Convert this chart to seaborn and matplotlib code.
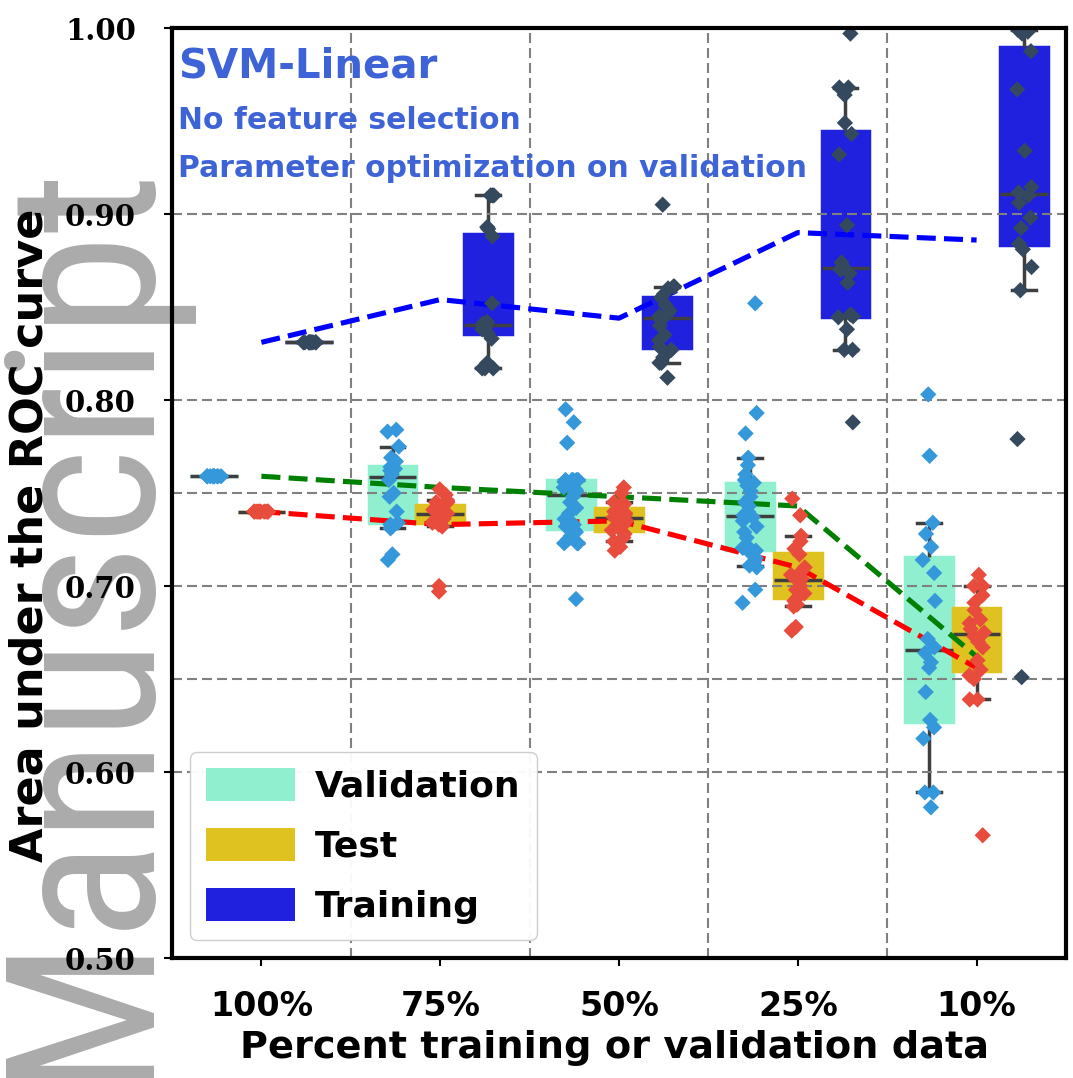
import numpy as np
import pandas as pd
import matplotlib
matplotlib.use("Agg")
import matplotlib.pyplot as plt
import matplotlib.font_manager as fm
import seaborn as sns
from matplotlib.ticker import FixedLocator

np.random.seed(7)

# ---------------- data ----------------
categories = ["100%", "75%", "50%", "25%", "10%"]
groups = ["Validation", "Test", "Training"]

val_100 = [0.759, 0.759, 0.759, 0.759, 0.759, 0.759, 0.759, 0.759, 0.759, 0.759]
val_75 = [0.714, 0.717, 0.731, 0.732, 0.733, 0.734, 0.740, 0.748, 0.750, 0.757,
          0.760, 0.762, 0.763, 0.764, 0.764, 0.767, 0.769, 0.775, 0.783, 0.784]
val_50 = [0.693, 0.723, 0.723, 0.723, 0.725, 0.727, 0.729, 0.730, 0.732, 0.733,
          0.736, 0.739, 0.742, 0.745, 0.748, 0.750, 0.751, 0.752, 0.753, 0.754,
          0.755, 0.756, 0.757, 0.757, 0.757, 0.757, 0.757, 0.777, 0.788, 0.795]
val_25 = [0.691, 0.698, 0.710, 0.711, 0.713, 0.715, 0.717, 0.719, 0.7205, 0.722,
          0.726, 0.729, 0.732, 0.735, 0.737, 0.738, 0.740, 0.743, 0.745, 0.748,
          0.751, 0.754, 0.7555, 0.757, 0.760, 0.765, 0.769, 0.782, 0.793, 0.852]
val_10 = [0.581, 0.589, 0.589, 0.618, 0.624, 0.628, 0.643, 0.656, 0.659, 0.664,
          0.667, 0.6715, 0.692, 0.707, 0.714, 0.721, 0.728, 0.734, 0.770, 0.803]

test_100 = [0.740, 0.740, 0.740, 0.740, 0.740, 0.740, 0.740, 0.740, 0.740, 0.740]
test_75 = [0.697, 0.700, 0.732, 0.733, 0.733, 0.734, 0.735, 0.736, 0.737, 0.738,
           0.739, 0.740, 0.741, 0.742, 0.743, 0.745, 0.745, 0.746, 0.749, 0.752]
test_50 = [0.719, 0.721, 0.724, 0.726, 0.728, 0.730, 0.731, 0.733, 0.735, 0.736,
           0.737, 0.738, 0.739, 0.740, 0.741, 0.744, 0.744, 0.745, 0.750, 0.753]
test_25 = [0.676, 0.678, 0.689, 0.690, 0.692, 0.694, 0.696, 0.698, 0.700, 0.702,
           0.704, 0.706, 0.708, 0.710, 0.717, 0.720, 0.724, 0.727, 0.738, 0.747]
test_10 = [0.566, 0.639, 0.639, 0.650, 0.652, 0.655, 0.660, 0.667, 0.670, 0.673,
           0.675, 0.677, 0.680, 0.682, 0.687, 0.691, 0.695, 0.700, 0.700, 0.706]

train_100 = [0.831, 0.831, 0.831, 0.831, 0.831, 0.831, 0.831, 0.831, 0.831, 0.831]
train_75 = [0.817, 0.817, 0.817, 0.820, 0.833, 0.836, 0.838, 0.839, 0.839, 0.840,
            0.841, 0.841, 0.842, 0.852, 0.888, 0.892, 0.893, 0.910, 0.910, 0.910]
train_50 = [0.812, 0.820, 0.820, 0.823, 0.827, 0.8285, 0.832, 0.835, 0.840, 0.843,
            0.845, 0.846, 0.848, 0.851, 0.855, 0.857, 0.860, 0.861, 0.861, 0.905]
train_25 = [0.788, 0.827, 0.827, 0.838, 0.8445, 0.845, 0.846, 0.863, 0.868, 0.870,
            0.872, 0.874, 0.894, 0.932, 0.943, 0.949, 0.964, 0.968, 0.968, 0.997]
train_10 = [0.651, 0.779, 0.859, 0.8715, 0.881, 0.884, 0.8925, 0.898, 0.906, 0.910,
            0.9115, 0.9145, 0.934, 0.967, 0.9875, 0.997, 0.998, 0.999, 0.999, 1.000]

val_means = [0.759, 0.753, 0.748, 0.743, 0.662]
test_means = [0.740, 0.733, 0.735, 0.710, 0.656]
train_means = [0.831, 0.854, 0.844, 0.890, 0.886]

series = {
    "Validation": [val_100, val_75, val_50, val_25, val_10],
    "Test": [test_100, test_75, test_50, test_25, test_10],
    "Training": [train_100, train_75, train_50, train_25, train_10],
}
rows = []
for g in groups:
    for c, vals in zip(categories, series[g]):
        rows += [(c, g, v) for v in vals]
df = pd.DataFrame(rows, columns=["pct", "set", "auc"])

# ---------------- styling ----------------
box_palette = {"Validation": "aquamarine", "Test": "gold", "Training": "blue"}
point_palette = {"Validation": "#3498db", "Test": "#e74c3c", "Training": "#34495e"}
GRID_Y_MINOR = [0.65, 0.75]
GRID_X = [0.5, 1.5, 2.5, 3.5]

# watermark font: prefer a narrow face when one is installed
names = {f.name for f in fm.fontManager.ttflist}
wm_stretch = "normal"
if "Liberation Sans Narrow" in names:
    wm_family, wm_size = "Liberation Sans Narrow", 163
elif "Roboto Condensed" in names:
    wm_family, wm_size = "Roboto Condensed", 150
else:
    path = fm.findfont(fm.FontProperties(family="DejaVu Sans", stretch="condensed"))
    if "Condensed" in path:
        wm_family, wm_size, wm_stretch = "DejaVu Sans", 131, "condensed"
    else:
        wm_family, wm_size = "DejaVu Sans", 117

W, H = 1073, 1078
fig = plt.figure(figsize=(W / 100, H / 100), dpi=100)
fig.patch.set_facecolor("white")
L, R, T, B = 172, 1066, 28, 958
ax = fig.add_axes([L / W, 1 - B / H, (R - L) / W, (B - T) / H])
ax.set_facecolor("none")

fig.text(139 / W, -0.004, "Manuscript", rotation=90, rotation_mode="anchor",
         ha="left", va="baseline", fontsize=wm_size, family=wm_family,
         fontstretch=wm_stretch, color="#ababab", zorder=-1)

sns.boxplot(data=df, x="pct", y="auc", hue="set", order=categories, hue_order=groups,
            palette=box_palette, whis=(10, 90), showfliers=False, linecolor="#3f3f3f",
            linewidth=2.5, width=0.8, ax=ax)
for p in ax.patches:
    p.set_edgecolor(p.get_facecolor())

old = ax.get_legend()
handles = list(old.legend_handles)
labels = [t.get_text() for t in old.get_texts()]
old.remove()

for means, color in zip([val_means, test_means, train_means], ["green", "red", "blue"]):
    sns.pointplot(x=categories, y=means, order=categories, color=color, linestyle="--",
                  marker="", linewidth=3.7, errorbar=None, ax=ax, zorder=2.6)

sns.stripplot(data=df, x="pct", y="auc", hue="set", order=categories, hue_order=groups,
              palette=point_palette, dodge=True, jitter=0.13, marker="D", size=8.3,
              linewidth=0, legend=False, ax=ax, zorder=3)

ax.set_xlim(-0.5, 4.5)
ax.set_ylim(0.5, 1.0)
ax.set_yticks([0.5, 0.6, 0.7, 0.8, 0.9, 1.0])
ax.set_yticklabels(["0.50", "0.60", "0.70", "0.80", "0.90", "1.00"],
                   family="DejaVu Serif", weight="bold", fontsize=21)
ax.set_xticks(range(len(categories)))
ax.set_xticklabels(categories, family="DejaVu Sans", weight="bold", fontsize=24)
ax.yaxis.set_minor_locator(FixedLocator(GRID_Y_MINOR))
ax.xaxis.set_minor_locator(FixedLocator(GRID_X))
ax.tick_params(which="minor", length=0)
ax.tick_params(which="major", length=6, width=1.5, direction="out", color="black")
ax.tick_params(axis="x", which="major", pad=17)
ax.tick_params(axis="y", which="major", pad=20)
ax.grid(False)
ax.set_axisbelow(False)
grid_kw = dict(linestyle=(0, (4.8, 2.4)), color="#808080", linewidth=1.5)
ax.yaxis.grid(True, which="both", **grid_kw)
ax.xaxis.grid(True, which="minor", **grid_kw)
for s in ax.spines.values():
    s.set_linewidth(3)
    s.set_color("black")
    s.set_zorder(4)

ax.set_xlabel("Percent training or validation data", fontsize=27.5, weight="bold",
              family="DejaVu Sans")
ax.set_ylabel("Area under the ROC curve", fontsize=32, weight="bold", family="DejaVu Sans")
ax.xaxis.set_label_coords(0.4955, -0.077)
ax.yaxis.set_label_coords(-0.135, 0.455)

txt_color = "#3d63d6"
ax.text(0.007, 0.980, "SVM-Linear", transform=ax.transAxes, ha="left", va="top",
        fontsize=29, weight="bold", color=txt_color, family="DejaVu Sans")
ax.text(0.007, 0.916, "No feature selection", transform=ax.transAxes, ha="left", va="top",
        fontsize=21.5, weight="bold", color=txt_color, family="DejaVu Sans")
ax.text(0.007, 0.864, "Parameter optimization on validation", transform=ax.transAxes,
        ha="left", va="top", fontsize=21.5, weight="bold", color=txt_color,
        family="DejaVu Sans")

for h in handles:
    h.set_edgecolor("none")
leg = ax.legend(handles, labels, loc="lower left",
                prop=dict(family="DejaVu Sans", weight="bold", size=26),
                handlelength=2.45, handleheight=1.05, borderpad=0.45, labelspacing=0.66,
                handletextpad=0.55, borderaxespad=0.5, frameon=True, fancybox=True,
                edgecolor="#cccccc", framealpha=0.95)
leg.set_zorder(5)

fig.savefig("out.png", dpi=100, facecolor="white")
